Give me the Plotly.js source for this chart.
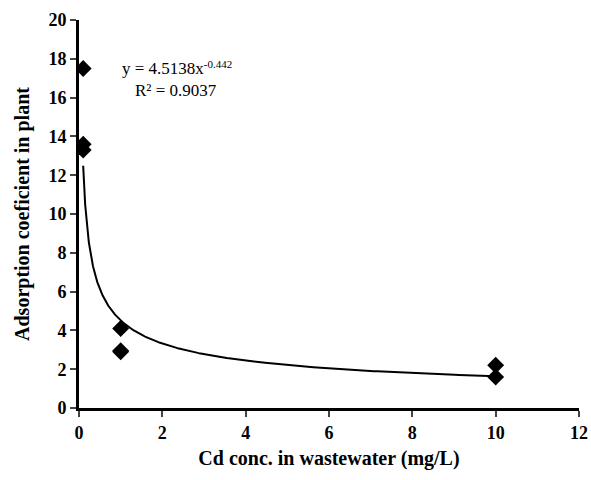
<!DOCTYPE html>
<html><head><meta charset="utf-8">
<script src="https://cdn.plot.ly/plotly-3.0.1.min.js"></script>
<style>
body{margin:0;background:#fff}
#wrap{position:relative;width:591px;height:480px}
#c{width:591px;height:480px}
.eq{position:absolute;font-family:"Liberation Serif","Times New Roman",serif;font-size:17px;color:#000;line-height:20px;white-space:nowrap}
.eq sup{font-size:11px;vertical-align:6px;line-height:0}
</style>
</head><body><div id="wrap"><div id="c"></div>
<div class="eq" id="eq1" style="left:122px;top:59px"></div>
<div class="eq" id="eq2" style="left:135px;top:81px"></div></div>
<script>
var cdConc = [0.1, 0.1, 0.1, 1, 1, 1, 10, 10];
var adsCoef = [17.5, 13.6, 13.3, 4.1, 2.95, 2.9, 2.2, 1.6];
var fitA = 4.5138, fitB = -0.442, fitR2 = 0.9037;
var xTicks = [0, 2, 4, 6, 8, 10, 12];
var yTicks = [0, 2, 4, 6, 8, 10, 12, 14, 16, 18, 20];

var fx = [], fy = [];
for (var i = 0; i <= 400; i++) {
  var x = 0.1 * Math.pow(100, i / 400);
  fx.push(x); fy.push(fitA * Math.pow(x, fitB));
}
function bold(v) { return v.map(function (t) { return '<b>' + t + '</b>'; }); }

document.getElementById('eq1').innerHTML = 'y = ' + fitA + 'x<sup>' + fitB + '</sup>';
document.getElementById('eq2').innerHTML = 'R² = ' + fitR2;

var ser = "Liberation Serif, Times New Roman, serif";
var data = [
  {x: fx, y: fy, mode: 'lines', line: {color: '#000', width: 2}, hoverinfo: 'skip'},
  {x: cdConc, y: adsCoef, mode: 'markers', marker: {symbol: 'diamond', size: 13, color: '#000'}}
];
var layout = {
  width: 591, height: 480, showlegend: false,
  paper_bgcolor: '#fff', plot_bgcolor: '#fff',
  margin: {l: 79, r: 12, t: 20, b: 72},
  font: {family: ser, color: '#000'},
  xaxis: {range: [0, 12], tickvals: xTicks, ticktext: bold(xTicks), showgrid: false, zeroline: false,
    showline: true, linewidth: 3, linecolor: '#000', ticks: 'outside', ticklen: 6, tickwidth: 2,
    tickfont: {family: ser, size: 18, color: '#000'},
    title: {text: '<b>Cd conc. in wastewater (mg/L)</b>', font: {family: ser, size: 20}, standoff: 10}},
  yaxis: {range: [0, 20], tickvals: yTicks, ticktext: bold(yTicks), showgrid: false, zeroline: false,
    showline: true, linewidth: 3, linecolor: '#000', ticks: 'outside', ticklen: 6, tickwidth: 2,
    tickfont: {family: ser, size: 18, color: '#000'},
    title: {text: '<b>Adsorption coeficient in plant</b>', font: {family: ser, size: 20}, standoff: 14}}
};
Plotly.newPlot('c', data, layout, {displayModeBar: false});
</script></body></html>
